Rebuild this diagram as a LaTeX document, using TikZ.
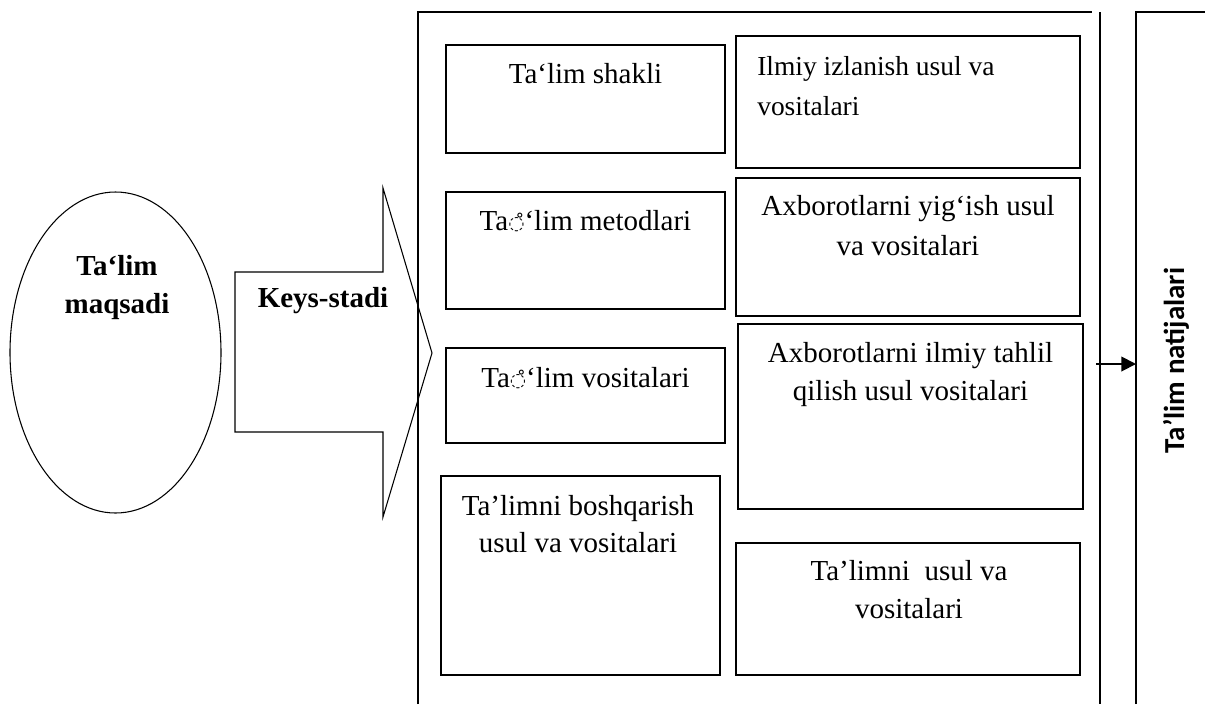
\documentclass[tikz,border=0pt]{standalone}
\usepackage{fontspec}
\setmainfont{Liberation Serif}
\newfontfamily\carlitofont{Carlito}
\newfontfamily\dejavufont{DejaVu Sans}
\usetikzlibrary{shapes.geometric,arrows.meta}
\newcommand{\dotcirc}{{\dejavufont\fontsize{14}{14}\selectfont\raisebox{0.5pt}{◌̊}}}
\begin{document}
\begin{tikzpicture}[x=0.75pt,y=-0.75pt,
  bx/.style 2 args={draw, line width=1.05pt, inner sep=0pt,
     minimum width=#1*0.75pt, minimum height=#2*0.75pt},
  txt/.style={inner sep=0pt, align=center, anchor=north},
  f38/.style={font=\fontsize{21.75}{28.5}\selectfont},
  b38/.style={font=\fontsize{21.75}{28.5}\selectfont\bfseries},
  f37/.style={font=\fontsize{21.75}{27.75}\selectfont},
  f40/.style={font=\fontsize{21.75}{30}\selectfont},
  frame/.style={line width=1.05pt},
  conn/.style={line width=1.4pt, -{Triangle[length=11pt,width=11pt]}}]
\useasboundingbox (0,0) rectangle (1205,704);
% goal ellipse
\node[ellipse, draw, line width=0.8pt, inner sep=0pt,
      minimum width=211*0.75pt, minimum height=321*0.75pt] (goal) at (115.5,352.5) {};
\node[txt, b38] (goalt) at (117,248.4) {\strut Ta‘lim\\maqsadi};
% block arrow
\draw[line width=0.8pt] (235,272) -- (383,272) -- (383,188) -- (432,353)
   -- (383,517) -- (383,432) -- (235,432) -- cycle;
\node[txt, b38] (keys) at (323,280.4) {\strut Keys-stadi};
% frame
\draw[frame] (418,704) -- (418,12) -- (1092,12);
\coordinate (vtop) at (1100,12);
\coordinate (vbot) at (1100,704);
\draw[frame] (vtop) -- (vbot);
\coordinate (resTL) at (1136,12);
\draw[frame] (1136,704) -- (resTL) -- (1205,12);
% left column
\node[bx={279}{108}] (l1) at (585.5,99) {};
\node[txt, f38] (l1t) at (585.5,56.4) {\strut Ta‘lim shakli};
\node[bx={279}{117}] (l2) at (585.5,250.5) {};
\node[txt, f38] (l2t) at (585.5,203.4) {\strut Ta\dotcirc‘lim metodlari};
\node[bx={279}{95}] (l3) at (585.5,395.5) {};
\node[txt, f38] (l3t) at (585.5,360.4) {\strut Ta\dotcirc‘lim vositalari};
\node[bx={279}{199}] (l4) at (580.5,575.5) {};
\node[txt, f37] (l4t) at (578,489) {\strut Ta’limni boshqarish\\usul va vositalari};
% right column
\node[bx={344}{132}] (r1) at (908,102) {};
\node[txt, anchor=north west, align=left, font=\fontsize{20.6}{30}\selectfont] (r1t) at (757,47) {\strut Ilmiy izlanish usul va\\vositalari};
\node[bx={344}{138}] (r2) at (908,247) {};
\node[txt, f40] (r2t) at (908,187) {\strut Axborotlarni yig‘ish usul\\va vositalari};
\node[bx={345}{185}] (r3) at (910.5,416.5) {};
\node[txt, f38] (r3t) at (910.5,335.4) {\strut Axborotlarni ilmiy tahlil\\qilish usul vositalari};
\node[bx={344}{132}] (r4) at (908,609) {};
\node[txt, f38] (r4t) at (909,553.4) {\strut Ta’limni\ \ usul va\\vositalari};
% result
\coordinate (aS) at (1096,364);
\coordinate (aE) at (resTL |- aS);
\draw[conn] (aS) -- (aE);
\node[inner sep=0pt, rotate=90, anchor=base, font=\carlitofont\bfseries\fontsize{21.75}{26}\selectfont] (res) at (1184,360.5) {Ta’lim natijalari};
\end{tikzpicture}
\end{document}
